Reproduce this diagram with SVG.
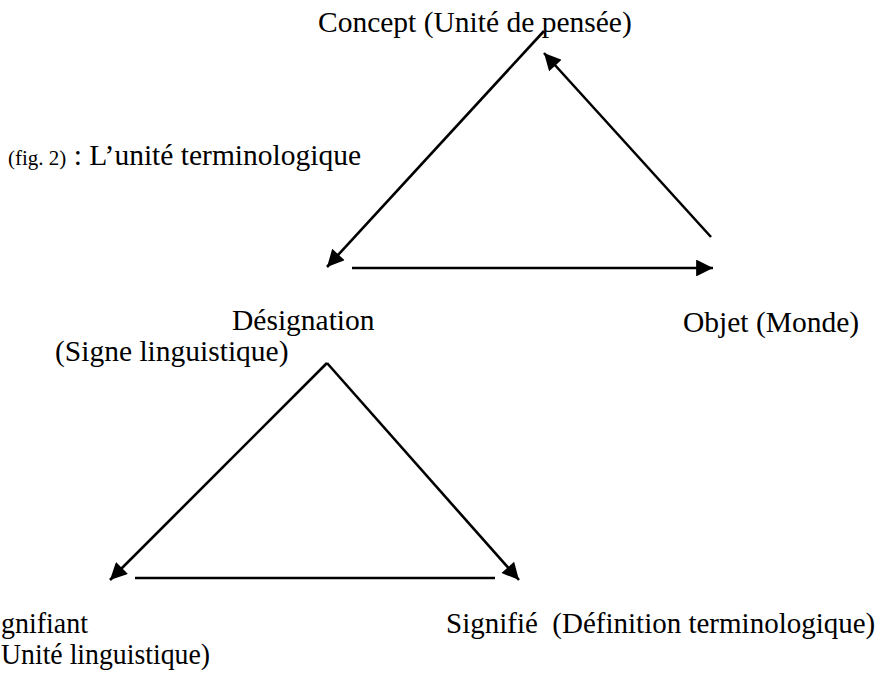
<svg xmlns="http://www.w3.org/2000/svg" width="883" height="673" viewBox="0 0 883 673">
<style>
text{font-family:"Liberation Serif","Times New Roman",serif;fill:#000;font-size:29.5px}
.b{font-size:30px}
.ln{stroke:#000;stroke-width:2.6;fill:none}
</style>
<defs>
<marker id="ah" viewBox="0 0 10 10" refX="10" refY="5" markerWidth="7.5" markerHeight="6.5" markerUnits="strokeWidth" orient="auto">
<path d="M0,0 L10,5 L0,10 z" fill="#000"/>
</marker>
</defs>
<rect width="883" height="673" fill="#fff"/>
<g id="title"><text x="8" y="165"><tspan font-size="21">(fig. 2)</tspan> : L’unité terminologique</text></g>
<g id="concept"><text x="318" y="32">Concept (Unité de pensée)</text></g>
<g id="designation"><text x="232" y="330">Désignation</text><text x="55" y="361">(Signe linguistique)</text></g>
<g id="objet"><text x="683" y="332">Objet (Monde)</text></g>
<g id="signifiant"><text class="b" x="1" y="633" textLength="87" lengthAdjust="spacingAndGlyphs">gnifiant</text><text class="b" x="1" y="664" textLength="209" lengthAdjust="spacingAndGlyphs">Unité linguistique)</text></g>
<g id="signifie"><text x="446" y="633" style="font-size:29px">Signifié&#160; (Définition terminologique)</text></g>
<g id="connectors">
<line class="ln" x1="544" y1="31" x2="327" y2="267" marker-end="url(#ah)"/>
<line class="ln" x1="711" y1="237" x2="544" y2="53" marker-end="url(#ah)"/>
<line class="ln" x1="352" y1="268" x2="713" y2="268" marker-end="url(#ah)"/>
<line class="ln" x1="327" y1="363" x2="110" y2="580" marker-end="url(#ah)"/>
<line class="ln" x1="327" y1="363" x2="519" y2="580" marker-end="url(#ah)"/>
<line class="ln" x1="135" y1="578" x2="495" y2="578"/>
</g>
</svg>
